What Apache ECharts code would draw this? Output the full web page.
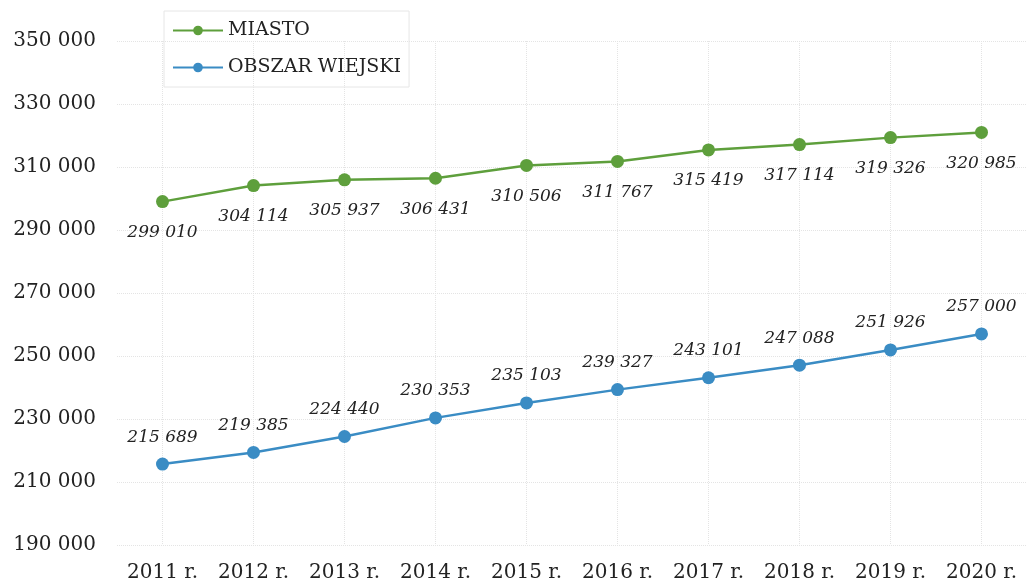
<!DOCTYPE html>
<html>
<head>
<meta charset="utf-8">
<script src="https://cdn.jsdelivr.net/npm/echarts@6/dist/echarts.min.js"></script>
<style>
  html, body { margin: 0; padding: 0; background: #fff; }
  #chart { width: 1027px; height: 587px; }
</style>
</head>
<body>
<div id="chart"></div>
<script>
// dane
var years = ['2011 r.', '2012 r.', '2013 r.', '2014 r.', '2015 r.', '2016 r.', '2017 r.', '2018 r.', '2019 r.', '2020 r.'];
var miasto = [299010, 304114, 305937, 306431, 310506, 311767, 315419, 317114, 319326, 320985];
var wies = [215689, 219385, 224440, 230353, 235103, 239327, 243101, 247088, 251926, 257000];
var seriesNames = ['MIASTO', 'OBSZAR WIEJSKI'];
var yMin = 190000, yMax = 350000, yStep = 20000;

var serif = '"DejaVu Serif", serif';

function fmt(v) {
  return String(v).replace(/\B(?=(\d{3})+(?!\d))/g, ' ');
}

var chart = echarts.init(document.getElementById('chart'));

chart.setOption({
  backgroundColor: '#fff',
  animation: false,
  grid: {
    left: 117,
    right: -7,
    top: 41,
    bottom: 42
  },
  legend: {
    orient: 'vertical',
    left: 164,
    top: 11,
    padding: [10, 8, 10, 8],
    itemGap: 18,
    itemWidth: 50,
    itemHeight: 12,
    borderColor: '#e6e6e6',
    borderWidth: 1,
    data: seriesNames,
    textStyle: {
      fontFamily: serif,
      fontSize: 19,
      color: '#222'
    }
  },
  xAxis: {
    type: 'category',
    data: years,
    boundaryGap: true,
    axisLine: { show: false },
    axisTick: { show: false },
    splitLine: {
      show: true,
      interval: 0,
      alignWithLabel: true,
      lineStyle: { color: '#e4e4e4', type: 'dotted', width: 1 }
    },
    axisLabel: {
      interval: 0,
      fontFamily: serif,
      fontSize: 20,
      color: '#222',
      margin: 18
    }
  },
  yAxis: {
    type: 'value',
    min: yMin,
    max: yMax,
    interval: yStep,
    axisLine: { show: false },
    axisTick: { show: false },
    splitLine: {
      lineStyle: { color: '#e4e4e4', type: 'dotted', width: 1 }
    },
    axisLabel: {
      fontFamily: serif,
      fontSize: 20,
      color: '#222',
      margin: 21,
      formatter: fmt
    }
  },
  series: [
    {
      name: seriesNames[0],
      type: 'line',
      data: miasto,
      symbol: 'circle',
      symbolSize: 13,
      color: '#5e9f3c',
      lineStyle: { width: 2.5, color: '#5e9f3c' },
      label: {
        show: true,
        position: 'bottom',
        distance: 16,
        fontFamily: serif,
        fontStyle: 'italic',
        fontSize: 17,
        color: '#222',
        formatter: function (p) { return fmt(p.value); }
      }
    },
    {
      name: seriesNames[1],
      type: 'line',
      data: wies,
      symbol: 'circle',
      symbolSize: 13,
      color: '#3a8cc4',
      lineStyle: { width: 2.5, color: '#3a8cc4' },
      label: {
        show: true,
        position: 'top',
        distance: 12,
        fontFamily: serif,
        fontStyle: 'italic',
        fontSize: 17,
        color: '#222',
        formatter: function (p) { return fmt(p.value); }
      }
    }
  ]
});
</script>
</body>
</html>
